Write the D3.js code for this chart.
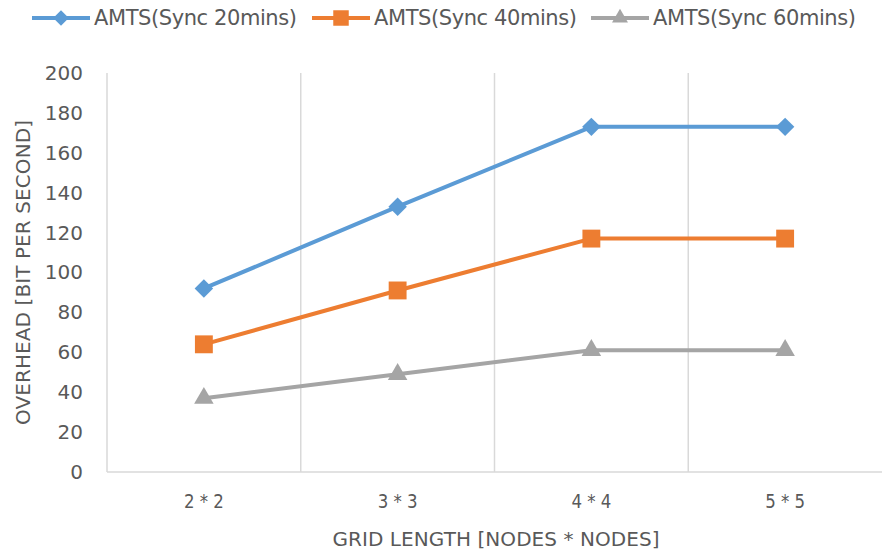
<!DOCTYPE html>
<html>
<head>
<meta charset="utf-8">
<script src="https://cdn.jsdelivr.net/npm/d3@7"></script>
<style>
  body { margin: 0; background: #fff; }
  svg text { font-family: "DejaVu Sans", "Open Sans", sans-serif; fill: #595959; }
</style>
</head>
<body>
<svg id="chart" width="882" height="556"></svg>
<script>
'use strict';

// data
var categories = ['2 * 2', '3 * 3', '4 * 4', '5 * 5'];
var sync20 = [92, 133, 173, 173];
var sync40 = [64, 91, 117, 117];
var sync60 = [37, 49, 61, 61];
var yTicks = [0, 20, 40, 60, 80, 100, 120, 140, 160, 180, 200];

// diamond = square turned 45 degrees (d3's own diamond is too narrow)
var diamond = {
  draw: function (ctx, size) {
    var r = Math.sqrt(size / 2);
    ctx.moveTo(0, -r);
    ctx.lineTo(r, 0);
    ctx.lineTo(0, r);
    ctx.lineTo(-r, 0);
    ctx.closePath();
  }
};

var series = [
  { name: 'AMTS(Sync 20mins)', values: sync20, color: '#5b9bd5', symbol: diamond, size: 170, legendSize: 120 },
  { name: 'AMTS(Sync 40mins)', values: sync40, color: '#ed7d31', symbol: d3.symbolSquare, size: 320, legendSize: 240 },
  { name: 'AMTS(Sync 60mins)', values: sync60, color: '#a5a5a5', symbol: d3.symbolTriangle, size: 165, legendSize: 110 }
];

var svg = d3.select('#chart');
var plot = { left: 107, right: 882, top: 73, bottom: 472 };

var x = d3.scaleBand().domain(categories).range([plot.left, plot.right]);
var y = d3.scaleLinear().domain([0, 200]).range([plot.bottom, plot.top]);
var cx = function (i) { return x(categories[i]) + x.bandwidth() / 2; };

// vertical gridlines between categories
svg.append('g').selectAll('line')
  .data(categories.slice(1))
  .join('line')
  .attr('x1', function (d) { return x(d); })
  .attr('x2', function (d) { return x(d); })
  .attr('y1', plot.top)
  .attr('y2', plot.bottom)
  .attr('stroke', '#d9d9d9')
  .attr('stroke-width', 1.5);

// axis lines
svg.append('line')
  .attr('x1', plot.left).attr('x2', plot.left)
  .attr('y1', plot.top).attr('y2', plot.bottom)
  .attr('stroke', '#d9d9d9').attr('stroke-width', 1.5);
svg.append('line')
  .attr('x1', plot.left).attr('x2', plot.right)
  .attr('y1', plot.bottom).attr('y2', plot.bottom)
  .attr('stroke', '#d9d9d9').attr('stroke-width', 1.5);

// y tick labels
var yAxis = svg.append('g')
  .attr('transform', 'translate(' + plot.left + ',0)')
  .call(d3.axisLeft(y).tickValues(yTicks).tickSize(0).tickPadding(24));
yAxis.select('.domain').remove();
yAxis.selectAll('text').style('font-size', '20px').style('font-family', null).attr('fill', '#595959');

// x tick labels
var xAxis = svg.append('g')
  .attr('transform', 'translate(0,' + plot.bottom + ')')
  .call(d3.axisBottom(x).tickSize(0).tickPadding(0));
xAxis.select('.domain').remove();
xAxis.selectAll('text')
  .attr('y', 36).attr('dy', null)
  .attr('textLength', 40)
  .attr('lengthAdjust', 'spacingAndGlyphs')
  .style('font-size', '20px').style('font-family', null).attr('fill', '#595959');

// axis titles
svg.append('text')
  .attr('transform', 'translate(30,' + (plot.top + plot.bottom) / 2 + ') rotate(-90)')
  .attr('text-anchor', 'middle')
  .attr('font-size', '20px')
  .attr('textLength', 305)
  .text('OVERHEAD [BIT PER SECOND]');

svg.append('text')
  .attr('x', 496)
  .attr('y', 546)
  .attr('text-anchor', 'middle')
  .attr('font-size', '20px')
  .attr('textLength', 327)
  .text('GRID LENGTH [NODES * NODES]');

// lines + markers
var line = d3.line()
  .x(function (d, i) { return cx(i); })
  .y(function (d) { return y(d); });

series.forEach(function (s) {
  svg.append('path')
    .datum(s.values)
    .attr('d', line)
    .attr('fill', 'none')
    .attr('stroke', s.color)
    .attr('stroke-width', 4)
    .attr('stroke-linejoin', 'round');

  svg.append('g').selectAll('path')
    .data(s.values)
    .join('path')
    .attr('transform', function (d, i) { return 'translate(' + cx(i) + ',' + y(d) + ')'; })
    .attr('d', d3.symbol().type(s.symbol).size(s.size))
    .attr('fill', s.color);
});

// legend
var legendX = [32, 312, 591];
var legend = svg.append('g').selectAll('g')
  .data(series)
  .join('g')
  .attr('transform', function (d, i) { return 'translate(' + legendX[i] + ',18)'; });

legend.append('line')
  .attr('x1', 0).attr('x2', 58)
  .attr('stroke', function (d) { return d.color; })
  .attr('stroke-width', 4);
legend.append('path')
  .attr('transform', 'translate(29,0)')
  .attr('d', function (d) { return d3.symbol().type(d.symbol).size(d.legendSize)(); })
  .attr('fill', function (d) { return d.color; });
legend.append('text')
  .attr('x', 62)
  .attr('y', 7)
  .attr('font-size', '21px')
  .attr('textLength', 203)
  .text(function (d) { return d.name; });
</script>
</body>
</html>
